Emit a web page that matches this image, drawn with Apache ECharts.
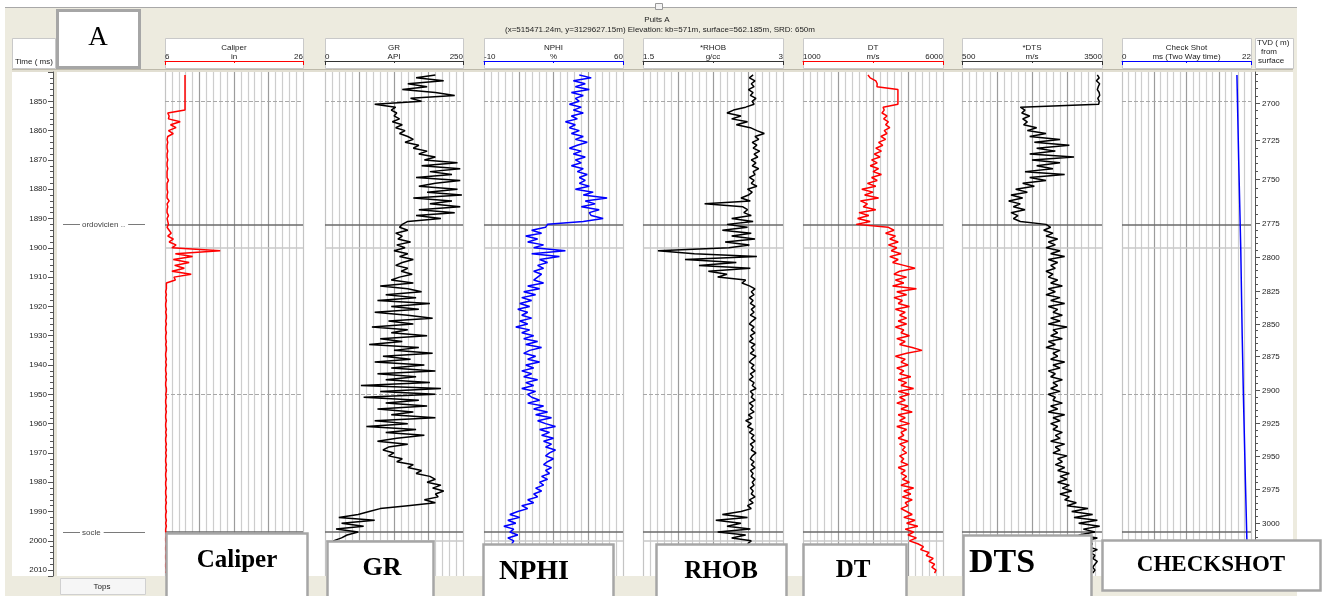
<!DOCTYPE html>
<html><head><meta charset="utf-8">
<script src="https://cdn.jsdelivr.net/npm/echarts/dist/echarts.min.js"></script>
<style>html,body{margin:0;padding:0;background:#fff;}#c{width:1325px;height:596px;}</style>
</head><body><div id="c"></div>
<script>
// ---------- DATA ----------
const timeStart = 1841;   // ms (two way time), first log sample
const timeStep = 1;       // ms between log samples

const caliper = [
8.9,8.9,8.9,8.9,8.9,8.9,8.9,8.9,8.9,8.9,
8.9,8.9,8.9,6.4,6.6,6.5,8.2,6.8,7.6,6.5,
7.2,6.4,6.3,6.4,6.3,6.3,6.4,6.3,6.3,6.4,
6.3,6.3,6.4,6.3,6.3,6.3,6.5,6.3,6.3,6.3,
6.4,6.3,6.3,6.6,6.3,6.4,6.3,6.3,6.5,6.3,
6.4,6.5,6.3,6.6,6.9,6.4,7.2,6.6,7.6,7.0,
14.0,7.5,10.0,7.2,9.5,7.4,8.8,7.0,9.8,7.3,
7.5,6.2,6.2,6.2,6.1,6.2,6.1,6.2,6.1,6.1,
6.2,6.1,6.2,6.2,6.1,6.2,6.1,6.1,6.2,6.1,
6.1,6.2,6.1,6.2,6.2,6.1,6.1,6.2,6.1,6.2,
6.1,6.1,6.2,6.1,6.2,6.1,6.1,6.2,6.2,6.1,
6.2,6.1,6.1,6.2,6.1,6.2,6.1,6.1,6.2,6.1,
6.1,6.2,6.1,6.2,6.1,6.1,6.2,6.1,6.2,6.1,
6.2,6.1,6.1,6.2,6.1,6.2,6.1,6.1,6.2,6.1,
6.1,6.2,6.1,6.1,6.2,6.1,6.2,6.1,6.1,6.2,
6.1,6.1,6.2,6.1,6.2,6.1,6.1,6.2,6.1,6.1,
6.2,6.1,6.1,6.2,6.1,6.1,6.2,6.1,6.1,6.2,
6.1];

const gr = [
200,165,215,150,185,140,200,235,155,175,
90,128,120,130,125,135,122,140,128,145,
135,150,160,145,170,160,185,170,200,180,
240,175,245,190,230,165,245,200,170,240,
185,248,160,230,190,245,170,235,165,210,
150,140,135,150,128,140,132,155,130,145,
125,150,135,160,140,128,150,138,158,135,
120,160,100,150,175,110,165,95,190,120,
170,90,150,195,115,160,85,150,120,185,
100,140,80,170,125,195,105,155,90,180,
120,200,95,165,110,190,65,210,100,200,
70,170,110,185,95,160,120,200,90,150,
75,165,110,180,130,95,150,115,105,125,
115,140,130,160,150,175,165,190,200,185,
210,195,215,200,205,180,200,150,100,80,
60,25,90,30,70,20,60,40,30,15,
25,35,20,40,30,25,35,20,30,25,
30];

const nphi = [
38,44,35,41,36,43,34,40,36,38,
33,39,35,40,34,37,31,36,33,38,
34,40,36,42,37,33,39,35,41,36,
39,34,40,37,42,38,41,38,43,36,
45,40,52,41,46,39,48,43,44,50,
40,22,21,14,19,11,17,12,20,15,
31,14,28,18,22,17,20,15,19,17,
15,20,12,18,10,16,9,14,8,13,
7,12,9,14,8,12,6,13,9,15,
10,17,11,19,13,10,16,12,18,11,
15,9,14,10,17,11,15,9,16,12,
14,18,12,20,15,22,16,24,17,21,
26,18,23,19,25,20,24,21,26,23,
21,25,22,20,24,21,23,19,22,18,
20,16,19,15,17,12,15,9,12,7,
3,8,2,6,0,5,3,7,2,5,
4,6,3,5,2,6,4,3,5,4,
3];

const rhob = [
2.68,2.64,2.70,2.66,2.69,2.63,2.68,2.65,2.71,2.67,
2.69,2.60,2.47,2.40,2.55,2.45,2.62,2.50,2.65,2.72,
2.80,2.70,2.74,2.67,2.72,2.68,2.75,2.69,2.73,2.66,
2.71,2.67,2.74,2.68,2.70,2.64,2.69,2.66,2.72,2.62,
2.67,2.63,2.55,2.65,2.16,2.57,2.62,2.58,2.66,2.45,
2.68,2.40,2.62,2.35,2.66,2.45,2.70,2.38,2.64,2.42,
1.66,2.05,2.72,1.95,2.50,2.10,2.65,2.20,2.40,2.30,
2.60,2.56,2.64,2.70,2.66,2.69,2.64,2.68,2.65,2.70,
2.66,2.69,2.65,2.71,2.67,2.64,2.69,2.66,2.70,2.65,
2.68,2.64,2.70,2.66,2.69,2.65,2.71,2.67,2.64,2.69,
2.66,2.70,2.65,2.68,2.64,2.69,2.67,2.71,2.65,2.68,
2.66,2.70,2.64,2.68,2.65,2.69,2.63,2.67,2.60,2.66,
2.62,2.68,2.64,2.69,2.66,2.70,2.65,2.68,2.66,2.71,
2.67,2.65,2.69,2.66,2.70,2.65,2.68,2.66,2.70,2.67,
2.69,2.65,2.68,2.66,2.70,2.64,2.68,2.62,2.66,2.55,
2.35,2.62,2.28,2.55,2.40,2.65,2.30,2.60,2.45,2.66,
2.62,2.68,2.65,2.70,2.66,2.69,2.67,2.70,2.66,2.68,
2.67];

const dt = [
3320,3400,3600,3650,3640,4390,4390,4390,4390,4390,
4390,3860,3900,3820,4000,3880,4050,3950,4100,3900,
4000,3780,3950,3700,3850,3600,3800,3550,3750,3450,
3650,3400,3700,3500,3800,3450,3650,3300,3600,3100,
3500,3200,3700,3050,3300,3150,3600,3000,3350,2950,
3400,2900,4050,4250,3950,4300,4100,4400,4050,4350,
4150,4500,4100,4400,4200,4600,5000,4450,4250,4700,
4300,4600,4200,5050,4350,4700,4250,4550,4400,4800,
4300,4650,4450,4700,4400,4700,4300,4600,4500,4800,
4350,4650,4450,4900,5250,4700,4300,4650,4500,4750,
4350,4600,4450,4850,4400,4700,4500,4950,4400,4800,
4450,4650,4350,4750,4500,4900,4400,4650,4450,4800,
4350,4700,4500,4600,4400,4750,4450,4650,4550,4700,
4450,4600,4500,4750,4400,4650,4500,4700,4550,4800,
4500,4950,4600,4850,4550,4900,4650,4750,4500,4700,
4900,4600,5000,4700,5100,4650,4950,4750,5050,4800,
5100,5300,5200,5500,5400,5650,5500,5700,5600,5750,
5700];

const dts = [
3400,3440,3380,3450,3420,3400,3440,3450,3410,3440,
3430,1750,1850,1780,1950,1800,1900,1820,2100,1900,
2300,1950,2600,2050,2800,2100,2500,1950,2900,2000,
2600,2100,2450,1850,2700,1950,2300,1800,2050,1650,
1900,1550,1800,1500,1750,1600,1850,1550,1700,1600,
1750,2300,2400,2250,2450,2300,2550,2350,2500,2300,
2600,2400,2700,2350,2550,2400,2500,2300,2450,2350,
2550,2400,2650,2350,2500,2300,2600,2400,2700,2350,
2550,2450,2650,2400,2600,2350,2750,2450,2550,2400,
2650,2350,2500,2300,2600,2450,2550,2400,2700,2450,
2600,2350,2500,2400,2650,2450,2550,2400,2600,2350,
2500,2450,2650,2400,2550,2350,2700,2450,2600,2400,
2550,2450,2650,2500,2600,2400,2700,2500,2600,2450,
2750,2550,2650,2500,2700,2550,2800,2600,2750,2550,
2800,2650,2850,2600,2800,2700,2950,2750,3200,2850,
3300,2900,3400,3000,3450,3100,3350,3000,3400,3150,
3300,3200,3400,3250,3350,3300,3400,3350,3300,3350,
3300];

const checkTimes  = [1841, 1870, 1900, 1930, 1950, 1980, 2000, 2011];
const checkValues = [1960, 1990, 2025, 2050, 2070, 2105, 2130, 2140];

const topNames = ['ordovicien ..', 'socle'];
const topTimes = [1892, 1997];

const tvdDepths = [2700, 2725, 2750, 2775, 2800, 2825, 2850, 2875, 2900, 2925, 2950, 2975, 3000];
const tvdTimes  = [1850.6, 1863.2, 1876.5, 1891.5, 1903.1, 1914.7, 1926.0, 1936.9, 1948.5, 1959.8, 1971.1, 1982.3, 1993.9];

const trackNames = ['Caliper', 'GR', 'NPHI', '*RHOB', 'DT', '*DTS', 'Check Shot'];
const trackUnits = ['in', 'API', '%', 'g/cc', 'm/s', 'm/s', 'ms (Two Way time)'];
const trackMin   = [6, 0, -10, 1.5, 1000, 500, 0];
const trackMax   = [26, 250, 60, 3, 6000, 3500, 2200];
const trackMinLabel = ['6', '0', '-10', '1.5', '1000', '500', '0'];
const trackMaxLabel = ['26', '250', '60', '3', '6000', '3500', '22'];
const gridLinesTime = [1850, 1900, 1950, 2000];

const titleText = 'Puits A';
const subtitleText = '(x=515471.24m, y=3129627.15m) Elevation: kb=571m, surface=562.185m, SRD: 650m';
const panelLabels = ['Caliper', 'GR', 'NPHI', 'RHOB', 'DT', 'DTS', 'CHECKSHOT'];

// ---------- LAYOUT / STYLE ----------
const SANS = 'Liberation Sans, Arial, sans-serif';
const SERIF = 'Liberation Serif, Times New Roman, serif';
const T_MIN = 1840, T_MAX = 2012, TOP = 72, H = 504;
const trackLeft  = [165, 325, 484, 643, 803, 962, 1122];
const trackWidth = [138, 138, 139, 140, 140, 140, 129];
const trackColor = ['#ff0000', '#000000', '#0000ff', '#000000', '#ff0000', '#000000', '#0000ff'];
const panelBoxes = [
  {x:166, y:533, w:141, h:70, cx:237, cy:561, fs:25},
  {x:327, y:541, w:106, h:62, cx:382, cy:568, fs:26},
  {x:483, y:544, w:130, h:60, cx:534, cy:572, fs:28},
  {x:656, y:544, w:130, h:60, cx:721, cy:572, fs:25},
  {x:803, y:544, w:103, h:60, cx:853, cy:571, fs:25},
  {x:963, y:535, w:128, h:68, cx:1002, cy:563, fs:34},
  {x:1102, y:540, w:218, h:50, cx:1211, cy:565, fs:23}
];

function samples(vals) { return vals.map((v, i) => [v, timeStart + i * timeStep]); }
const curves = [samples(caliper), samples(gr), samples(nphi), samples(rhob), samples(dt), samples(dts),
  checkTimes.map((t, i) => [checkValues[i], t])];

const grids = [], xAxes = [], yAxes = [], series = [];
function baseGrid(left, width, extra) {
  return Object.assign({left: left, top: TOP, width: width, height: H, containLabel: false, outerBoundsMode: 'none'}, extra || {});
}
function hiddenY(g, extra) {
  return Object.assign({type: 'value', gridIndex: g, min: T_MIN, max: T_MAX, inverse: true, show: false}, extra || {});
}

// grid 0 : time axis strip
grids.push(baseGrid(53, 4, {show: true, backgroundColor: '#E6E3D6', borderWidth: 0}));
xAxes.push({type: 'value', gridIndex: 0, show: false, min: 0, max: 1});
yAxes.push({type: 'value', gridIndex: 0, min: T_MIN, max: T_MAX, inverse: true, interval: 10, position: 'left',
  axisLine: {show: true, lineStyle: {color: '#555'}},
  axisTick: {show: true, length: 5, lineStyle: {color: '#555'}},
  minorTick: {show: true, splitNumber: 5, length: 3, lineStyle: {color: '#555'}},
  axisLabel: {fontSize: 8, color: '#222', margin: 6, showMinLabel: false, showMaxLabel: false, fontFamily: SANS,
    formatter: function (v) { return String(v); }},
  splitLine: {show: false}});

// grid 1 : tops
grids.push(baseGrid(57, 106));
const topsX = xAxes.length;
xAxes.push({type: 'value', gridIndex: 1, show: false, min: 0, max: 100});
const topsY = yAxes.length;
yAxes.push(hiddenY(1));
series.push({type: 'custom', coordinateSystem: 'cartesian2d', xAxisIndex: topsX, yAxisIndex: topsY, silent: true, animation: false,
  data: topTimes.map((t, i) => [50, t, i]), encode: {x: 0, y: 1},
  renderItem: function (params, api) {
    const y = Math.round(api.coord([0, api.value(1)])[1]) + 0.5;
    const x0 = params.coordSys.x;
    return {type: 'group', children: [
      {type: 'line', shape: {x1: x0 + 6, y1: y, x2: x0 + 88, y2: y}, style: {stroke: '#7a7a7a', lineWidth: 1}},
      {type: 'text', style: {text: topNames[api.value(2)], x: x0 + 23, y: y, fontSize: 8, fill: '#444', fontFamily: SANS,
        verticalAlign: 'middle', align: 'left', backgroundColor: '#fff', padding: [1, 3, 1, 2]}}
    ]};
  }});

// tracks
for (let k = 0; k < 7; k++) {
  const g = grids.length;
  grids.push(baseGrid(trackLeft[k], trackWidth[k]));
  xAxes.push({type: 'value', gridIndex: g, position: 'bottom', min: 0, max: 4, interval: 1,
    axisLine: {show: false}, axisTick: {show: false}, axisLabel: {show: false},
    splitLine: {show: true, lineStyle: {color: ['#c4c4c4', '#9c9c9c', '#9c9c9c', '#9c9c9c', '#c4c4c4'], width: 1.2}},
    minorTick: {show: false, splitNumber: 5},
    minorSplitLine: {show: true, lineStyle: {color: '#cdcdcd', width: 1.2}}});
  const dx = xAxes.length;
  const mx = trackMax[k], mn = trackMin[k];
  const ac = trackColor[k] === '#000000' ? '#333' : trackColor[k];
  xAxes.push({type: 'value', gridIndex: g, position: 'top', offset: 11, min: mn, max: mx, interval: mx - mn,
    axisLine: {show: true, onZero: false, lineStyle: {color: ac, width: 1}},
    axisTick: {show: true, inside: true, length: 4, lineStyle: {color: ac}},
    minorTick: {show: true, splitNumber: 2, length: 2, lineStyle: {color: ac}},
    axisLabel: {show: true, fontSize: 8, color: '#222', margin: 0, fontFamily: SANS, alignMinLabel: 'left', alignMaxLabel: 'right',
      formatter: function (v) { return v === mx ? trackMaxLabel[k] : (v === mn ? trackMinLabel[k] : ''); }},
    splitLine: {show: false},
    name: trackNames[k] + '\n' + trackUnits[k], nameLocation: 'middle', nameGap: 0, nameMoveOverlap: false,
    nameTextStyle: {fontSize: 8, color: '#222', lineHeight: 9, fontFamily: SANS}});
  const gy = yAxes.length;
  yAxes.push(hiddenY(g));
  const ml = gridLinesTime.map(t => ({yAxis: t, lineStyle: {type: (t % 100 === 0) ? 'solid' : 'dashed', color: (t % 100 === 0) ? '#c8c8c8' : '#a8a8a8', width: (t % 100 === 0) ? 1.5 : 1}}))
    .concat(topTimes.map(t => ({yAxis: t, lineStyle: {type: 'solid', color: '#6a6a6a', width: 1.5}})));
  series.push({type: 'line', xAxisIndex: dx, yAxisIndex: gy, data: curves[k], symbol: 'none', showSymbol: false,
    lineStyle: {color: trackColor[k], width: 1.5}, animation: false, silent: true, z: 3,
    markLine: {silent: true, symbol: 'none', label: {show: false}, animation: false, data: ml, z: 2}});
}

// TVD axis column
const gT = grids.length;
grids.push(baseGrid(1255, 38));
const tvdX = xAxes.length;
xAxes.push({type: 'value', gridIndex: gT, show: false, min: 0, max: 1});
const tvdY = yAxes.length;
yAxes.push(hiddenY(gT, {show: true, position: 'left', axisLine: {show: true, lineStyle: {color: '#555'}},
  axisTick: {show: false}, axisLabel: {show: false}, splitLine: {show: false}}));
const tvdTicks = [];
for (let i = 0; i < tvdDepths.length; i++) tvdTicks.push([0, tvdTimes[i], tvdDepths[i], 1]);
for (let i = 0; i < tvdDepths.length - 1; i++)
  for (let k = 1; k < 5; k++) tvdTicks.push([0, tvdTimes[i] + (tvdTimes[i + 1] - tvdTimes[i]) * k / 5, 0, 0]);
{
  const d0 = tvdTimes[1] - tvdTimes[0];
  for (let k = 1; k <= 5; k++) { const t = tvdTimes[0] - d0 * k / 5; if (t >= T_MIN) tvdTicks.push([0, t, 0, k === 5 ? 2 : 0]); }
  const n = tvdTimes.length, dn = tvdTimes[n - 1] - tvdTimes[n - 2];
  for (let k = 1; k <= 8; k++) { const t = tvdTimes[n - 1] + dn * k / 5; if (t <= T_MAX) tvdTicks.push([0, t, 0, 0]); }
}
series.push({type: 'custom', coordinateSystem: 'cartesian2d', xAxisIndex: tvdX, yAxisIndex: tvdY, silent: true, animation: false,
  data: tvdTicks, encode: {x: 0, y: 1},
  renderItem: function (params, api) {
    const y = Math.round(api.coord([0, api.value(1)])[1]) + 0.5;
    const x0 = params.coordSys.x;
    const kind = api.value(3);
    const ch = [{type: 'line', shape: {x1: x0, y1: y, x2: x0 + (kind > 0 ? 5 : 3), y2: y}, style: {stroke: '#555', lineWidth: 1}}];
    if (kind === 1) ch.push({type: 'text', style: {text: String(api.value(2)), x: x0 + 7, y: y, fontSize: 8, fill: '#222',
      fontFamily: SANS, verticalAlign: 'middle', align: 'left'}});
    return {type: 'group', children: ch};
  }});

// ---------- decorative graphics ----------
const graphic = [];
graphic.push({type: 'rect', z: -30, shape: {x: 5, y: 8, width: 1292, height: 588}, style: {fill: '#EDEBDF'}, silent: true});
graphic.push({type: 'line', z: -29, shape: {x1: 5, y1: 7.5, x2: 1297, y2: 7.5}, style: {stroke: '#a8a8a8', lineWidth: 1}, silent: true});
graphic.push({type: 'rect', z: -28, shape: {x: 12, y: 72, width: 1281, height: 504}, style: {fill: '#ffffff'}, silent: true});
graphic.push({type: 'line', z: -27, shape: {x1: 12, y1: 69.5, x2: 1293, y2: 69.5}, style: {stroke: '#bdb9aa', lineWidth: 1}, silent: true});
graphic.push({type: 'rect', z: -27, shape: {x: 12, y: 70, width: 1281, height: 2}, style: {fill: '#E2DFD2'}, silent: true});
// header boxes
const hdr = [[12, 43]].concat(trackLeft.map((l, i) => [l, trackWidth[i]])).concat([[1255, 38]]);
hdr.forEach(h => graphic.push({type: 'rect', z: -26, shape: {x: h[0] + 0.5, y: 38.5, width: h[1], height: 30}, style: {fill: '#fff', stroke: '#c9c9c9', lineWidth: 1}, silent: true}));
graphic.push({type: 'text', z: 5, style: {text: 'Time ( ms)', x: 15, y: 62, fontSize: 8, fill: '#222', fontFamily: SANS, verticalAlign: 'middle'}});
graphic.push({type: 'text', z: 5, style: {text: 'TVD ( m)', x: 1257, y: 43, fontSize: 8, fill: '#222', fontFamily: SANS, verticalAlign: 'middle'}});
graphic.push({type: 'text', z: 5, style: {text: 'from', x: 1261, y: 52, fontSize: 8, fill: '#222', fontFamily: SANS, verticalAlign: 'middle'}});
graphic.push({type: 'text', z: 5, style: {text: 'surface', x: 1258, y: 61, fontSize: 8, fill: '#222', fontFamily: SANS, verticalAlign: 'middle'}});
// title
graphic.push({type: 'rect', z: 5, shape: {x: 655.5, y: 3.5, width: 7, height: 6}, style: {fill: '#f4f4f4', stroke: '#999', lineWidth: 1}, silent: true});
graphic.push({type: 'text', z: 5, style: {text: titleText, x: 657, y: 20, fontSize: 8, fill: '#222', fontFamily: SANS, align: 'center', verticalAlign: 'middle'}});
graphic.push({type: 'text', z: 5, style: {text: subtitleText, x: 660, y: 29.5, fontSize: 8, fill: '#222', fontFamily: SANS, align: 'center', verticalAlign: 'middle'}});
// bottom Tops tab
graphic.push({type: 'rect', z: 5, shape: {x: 60.5, y: 578.5, width: 85, height: 16}, style: {fill: '#f6f6f6', stroke: '#d0d0d0', lineWidth: 1}, silent: true});
graphic.push({type: 'text', z: 6, style: {text: 'Tops', x: 102, y: 587, fontSize: 8, fill: '#222', fontFamily: SANS, align: 'center', verticalAlign: 'middle'}});
// "A" panel
graphic.push({type: 'rect', z: 100, shape: {x: 57.5, y: 10.5, width: 82, height: 57}, style: {fill: '#fff', stroke: '#a6a6a6', lineWidth: 3}, silent: true});
graphic.push({type: 'text', z: 101, style: {text: 'A', x: 98, y: 38, fontSize: 27, fill: '#000', fontFamily: SERIF, align: 'center', verticalAlign: 'middle'}});
// bottom labels
panelBoxes.forEach((b, i) => {
  graphic.push({type: 'rect', z: 100, shape: {x: b.x + 0.5, y: b.y + 0.5, width: b.w, height: b.h}, style: {fill: '#fff', stroke: '#a6a6a6', lineWidth: 2.5}, silent: true});
  graphic.push({type: 'text', z: 101, style: {text: panelLabels[i], x: b.cx, y: b.cy, fontSize: b.fs, fontWeight: 'bold', fill: '#000', fontFamily: SERIF, align: 'center', verticalAlign: 'middle'}});
});

const chart = echarts.init(document.getElementById('c'), null, {renderer: 'canvas', width: 1325, height: 596});
chart.setOption({animation: false, backgroundColor: '#ffffff', grid: grids, xAxis: xAxes, yAxis: yAxes, series: series, graphic: graphic});
</script>
</body></html>
